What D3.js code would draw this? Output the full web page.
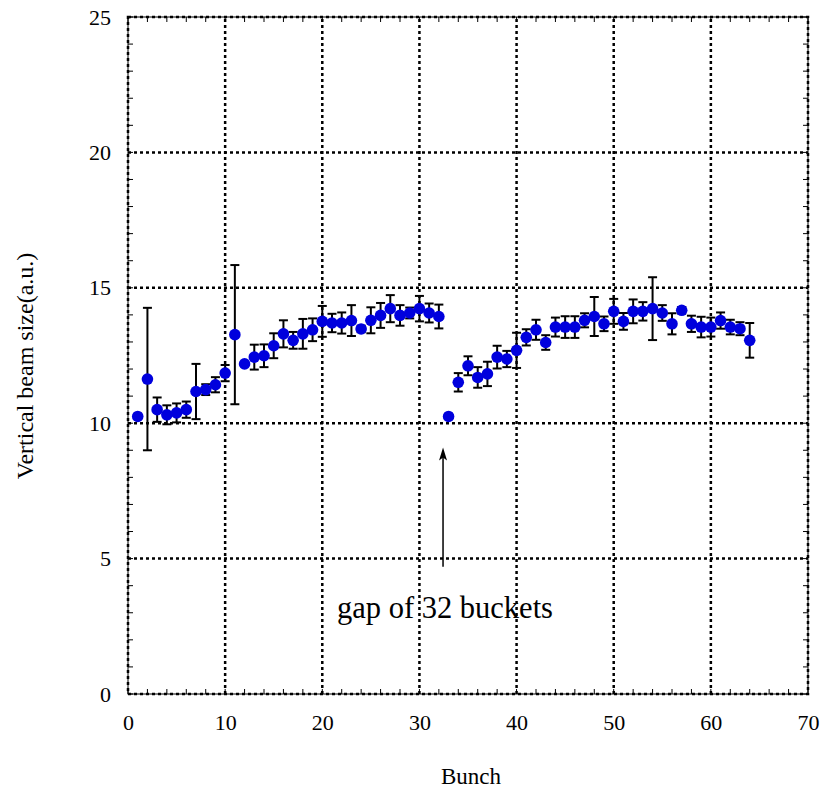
<!DOCTYPE html>
<html>
<head>
<meta charset="utf-8">
<script src="https://cdn.jsdelivr.net/npm/d3@7"></script>
<style>
  body { margin: 0; background: #fff; }
  svg text { font-family: "Liberation Serif", "Times New Roman", serif; fill: #000; }
</style>
</head>
<body>
<div id="chart"></div>
<script>
// bunch number, beam size and error
const bunches = d3.range(1, 65);
const beamSize = [
  10.25, 11.63, 10.50, 10.31, 10.38, 10.50, 11.17, 11.24, 11.42, 11.85,
  13.27, 12.19, 12.44, 12.49, 12.86, 13.30, 13.06, 13.30, 13.45, 13.76,
  13.70, 13.70, 13.79, 13.48, 13.80, 13.98, 14.23, 13.98, 14.07, 14.23,
  14.07, 13.94, 10.25, 11.51, 12.12, 11.69, 11.82, 12.44, 12.37, 12.69,
  13.17, 13.45, 12.98, 13.55, 13.55, 13.55, 13.80, 13.94, 13.67, 14.13,
  13.76, 14.13, 14.13, 14.23, 14.07, 13.67, 14.17, 13.67, 13.55, 13.55,
  13.79, 13.55, 13.49, 13.06
];
const beamErr = [
  0.05, 2.63, 0.45, 0.35, 0.35, 0.30, 1.02, 0.20, 0.28, 0.30,
  2.57, 0.08, 0.46, 0.42, 0.46, 0.50, 0.31, 0.55, 0.42, 0.57,
  0.34, 0.39, 0.57, 0.12, 0.48, 0.46, 0.50, 0.38, 0.20, 0.47,
  0.35, 0.44, 0.05, 0.34, 0.35, 0.38, 0.45, 0.42, 0.30, 0.65,
  0.30, 0.37, 0.27, 0.35, 0.40, 0.40, 0.26, 0.72, 0.27, 0.46,
  0.31, 0.44, 0.34, 1.16, 0.29, 0.39, 0.12, 0.30, 0.38, 0.35,
  0.30, 0.27, 0.24, 0.64
];
const xTicks = [0, 10, 20, 30, 40, 50, 60, 70];
const yTicks = [0, 5, 10, 15, 20, 25];
const xMinor = d3.range(0, 71, 2);
const yMinor = d3.range(0, 26, 1);

const width = 821, height = 789;
const margin = {top: 17, right: 13, bottom: 95, left: 128};

const svg = d3.select("#chart").append("svg")
  .attr("width", width)
  .attr("height", height);

const x = d3.scaleLinear().domain([0, 70]).range([margin.left, width - margin.right]);
const y = d3.scaleLinear().domain([0, 25]).range([height - margin.bottom, margin.top]);

const data = bunches.map((b, i) => ({b: b, v: beamSize[i], e: beamErr[i]}));

// grid
const dotted = "3,3";
svg.append("g").selectAll("line")
  .data(xTicks.slice(1, -1))
  .join("line")
  .attr("x1", d => x(d)).attr("x2", d => x(d))
  .attr("y1", y(0)).attr("y2", y(25))
  .attr("stroke", "#000").attr("stroke-width", 2.5)
  .attr("stroke-dasharray", dotted);
svg.append("g").selectAll("line")
  .data(yTicks.slice(1, -1))
  .join("line")
  .attr("x1", x(0)).attr("x2", x(70))
  .attr("y1", d => y(d)).attr("y2", d => y(d))
  .attr("stroke", "#000").attr("stroke-width", 2.5)
  .attr("stroke-dasharray", dotted);

// minor ticks on all four sides, pointing inward
const tk = 5;
const ticks = svg.append("g").attr("stroke", "#000").attr("stroke-width", 1);
xMinor.forEach(d => {
  ticks.append("line").attr("x1", x(d)).attr("x2", x(d)).attr("y1", y(0)).attr("y2", y(0) - tk);
  ticks.append("line").attr("x1", x(d)).attr("x2", x(d)).attr("y1", y(25)).attr("y2", y(25) + tk);
});
yMinor.forEach(d => {
  ticks.append("line").attr("x1", x(0)).attr("x2", x(0) + tk).attr("y1", y(d)).attr("y2", y(d));
  ticks.append("line").attr("x1", x(70)).attr("x2", x(70) - tk).attr("y1", y(d)).attr("y2", y(d));
});

// frame
svg.append("rect")
  .attr("x", x(0)).attr("y", y(25))
  .attr("width", x(70) - x(0)).attr("height", y(0) - y(25))
  .attr("fill", "none").attr("stroke", "#000").attr("stroke-width", 1);
svg.append("rect")
  .attr("x", x(0)).attr("y", y(25))
  .attr("width", x(70) - x(0)).attr("height", y(0) - y(25))
  .attr("fill", "none").attr("stroke", "#000").attr("stroke-width", 2.5)
  .attr("stroke-dasharray", dotted);

// tick labels via d3 axes, no lines
const xAxis = svg.append("g")
  .attr("transform", `translate(0,${y(0)})`)
  .call(d3.axisBottom(x).tickValues(xTicks).tickSize(0).tickPadding(20).tickFormat(d3.format("d")));
const yAxis = svg.append("g")
  .attr("transform", `translate(${x(0)},0)`)
  .call(d3.axisLeft(y).tickValues(yTicks).tickSize(0).tickPadding(17).tickFormat(d3.format("d")));
[xAxis, yAxis].forEach(a => {
  a.attr("font-family", null).attr("font-size", null);
  a.select(".domain").remove();
  a.selectAll("text").style("font-size", "22px").attr("fill", "#000");
});
xAxis.selectAll("text").attr("dy", "0.71em");

svg.append("text")
  .attr("x", 471).attr("y", 784)
  .attr("text-anchor", "middle").style("font-size", "23px")
  .text("Bunch");
svg.append("text")
  .attr("transform", `translate(33,366) rotate(-90)`)
  .attr("text-anchor", "middle").style("font-size", "24px")
  .text("Vertical beam size(a.u.)");

// error bars
const cap = 4.5;
const eb = svg.append("g").attr("stroke", "#000").attr("stroke-width", 2);
eb.selectAll("line.v").data(data).join("line").attr("class", "v")
  .attr("x1", d => x(d.b)).attr("x2", d => x(d.b))
  .attr("y1", d => y(d.v - d.e)).attr("y2", d => y(d.v + d.e));
eb.selectAll("line.t").data(data.filter(d => d.e > 0.1)).join("line").attr("class", "t")
  .attr("x1", d => x(d.b) - cap).attr("x2", d => x(d.b) + cap)
  .attr("y1", d => y(d.v + d.e)).attr("y2", d => y(d.v + d.e));
eb.selectAll("line.b").data(data.filter(d => d.e > 0.1)).join("line").attr("class", "b")
  .attr("x1", d => x(d.b) - cap).attr("x2", d => x(d.b) + cap)
  .attr("y1", d => y(d.v - d.e)).attr("y2", d => y(d.v - d.e));

// points
svg.append("g").selectAll("circle")
  .data(data)
  .join("circle")
  .attr("cx", d => x(d.b))
  .attr("cy", d => y(d.v))
  .attr("r", 5.8)
  .attr("fill", "#0000dd");

// annotation arrow
const ax = x(32.43);
svg.append("line")
  .attr("x1", ax).attr("x2", ax)
  .attr("y1", y(4.7)).attr("y2", y(9.1) + 4)
  .attr("stroke", "#000").attr("stroke-width", 1.5);
svg.append("path")
  .attr("d", `M${ax},${y(9.1)} L${ax - 4},${y(9.1) + 13} L${ax},${y(9.1) + 10} L${ax + 4},${y(9.1) + 13} Z`)
  .attr("fill", "#000");
svg.append("text")
  .attr("x", 337).attr("y", 618)
  .style("font-size", "30.5px")
  .text("gap of 32 buckets");
</script>
</body>
</html>
